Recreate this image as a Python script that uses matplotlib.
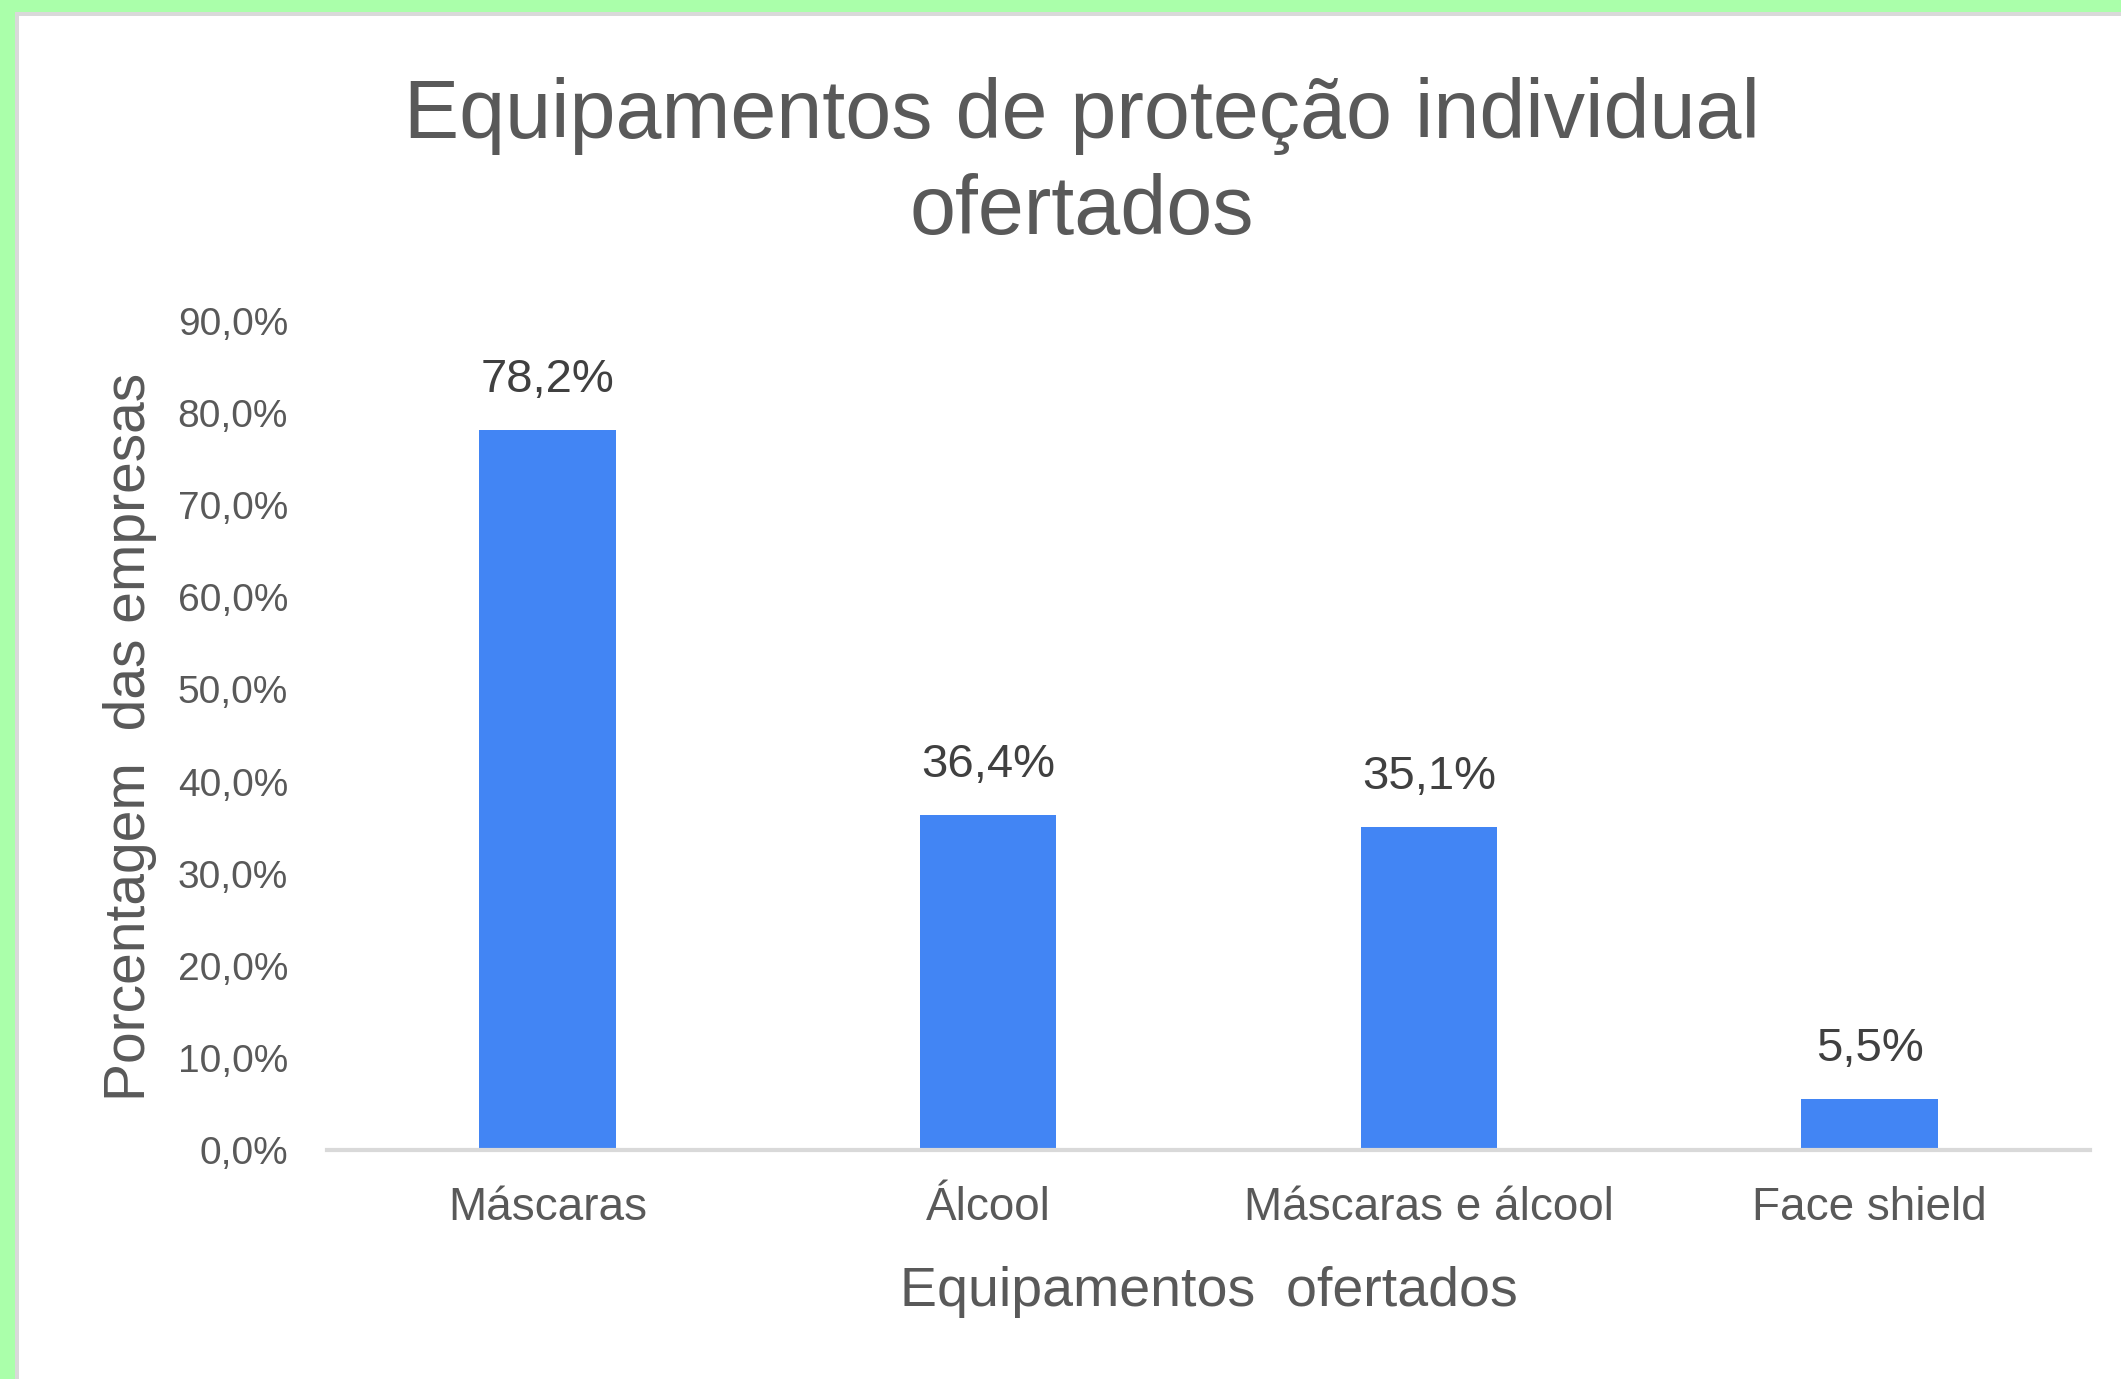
# ==========================================================
# EQUIPAMENTOS DE PROTEÇÃO INDIVIDUAL OFERTADOS
# ==========================================================

import matplotlib.pyplot as plt
from matplotlib.patches import Rectangle

# ==========================================================
# DADOS
# ==========================================================

categorias = ["Máscaras", "Álcool", "Máscaras e álcool", "Face shield"]

porcentagens = [78.2, 36.4, 35.1, 5.5]

ticks_y = [0, 10, 20, 30, 40, 50, 60, 70, 80, 90]

# ==========================================================
# CONFIGURAÇÕES
# ==========================================================

plt.rcParams["font.family"] = ["Liberation Sans", "DejaVu Sans"]

COR_TEXTO = "#595959"
COR_BARRA = "#4285F4"
COR_LINHA = "#D9D9D9"
COR_VERDE = "#AAFFAA"

W, H = 2121, 1379


# ==========================================================
# MOLDURA
# ==========================================================

def moldura(fig):

    # faixa verde à esquerda e no topo
    fig.patches.append(Rectangle((0, 0), 15 / W, 1, transform=fig.transFigure,
                                 facecolor=COR_VERDE, edgecolor="none", zorder=0))
    fig.patches.append(Rectangle((0, 1 - 12 / H), 1, 12 / H, transform=fig.transFigure,
                                 facecolor=COR_VERDE, edgecolor="none", zorder=0))

    # linha cinza interna
    fig.patches.append(Rectangle((15 / W, 0), 4 / W, 1 - 12 / H, transform=fig.transFigure,
                                 facecolor=COR_LINHA, edgecolor="none", zorder=0))
    fig.patches.append(Rectangle((15 / W, 1 - 16 / H), 1, 4 / H, transform=fig.transFigure,
                                 facecolor=COR_LINHA, edgecolor="none", zorder=0))


# ==========================================================
# GRÁFICO
# ==========================================================

def grafico():

    fig = plt.figure(figsize=(W / 100, H / 100), dpi=100, facecolor="white")

    moldura(fig)

    ax = fig.add_axes([327 / W, 1 - 1150 / H, (2090 - 327) / W, (1150 - 321) / H])

    x = range(len(categorias))

    ax.bar(x, porcentagens, width=0.31, color=COR_BARRA, zorder=2)

    for xi, v in zip(x, porcentagens):
        ax.annotate(
            f"{v:.1f}%".replace(".", ","),
            (xi, v),
            xytext=(0, 36),
            textcoords="offset points",
            ha="center",
            va="center",
            fontsize=34,
            color="#404040"
        )

    ax.set_xlim(-0.5, len(categorias) - 0.5)
    ax.set_ylim(0, 90)

    ax.set_yticks(ticks_y)
    ax.set_yticklabels([f"{t:.1f}%".replace(".", ",") for t in ticks_y])

    ax.set_xticks(list(x))
    ax.set_xticklabels(categorias)

    ax.tick_params(axis="y", length=0, pad=28, labelsize=28, labelcolor=COR_TEXTO)
    ax.tick_params(axis="x", length=0, pad=26, labelsize=33, labelcolor=COR_TEXTO)

    for lado in ["top", "right", "left"]:
        ax.spines[lado].set_visible(False)

    ax.spines["bottom"].set_color(COR_LINHA)
    ax.spines["bottom"].set_linewidth(3)
    ax.spines["bottom"].set_zorder(3)

    ax.set_xlabel("Equipamentos  ofertados", fontsize=40, color=COR_TEXTO, labelpad=26)

    fig.text(130 / W, 1 - 737 / H, "Porcentagem  das empresas", rotation=90,
             ha="center", va="center", fontsize=41, color=COR_TEXTO)

    fig.text(1082 / W, 1 - 164 / H, "Equipamentos de proteção individual\nofertados",
             ha="center", va="center", fontsize=59.5, color=COR_TEXTO, linespacing=1.29)

    fig.savefig("out.png", dpi=100, facecolor=fig.get_facecolor())


# ==========================================================
# PROGRAMA PRINCIPAL
# ==========================================================

if __name__ == "__main__":

    grafico()
